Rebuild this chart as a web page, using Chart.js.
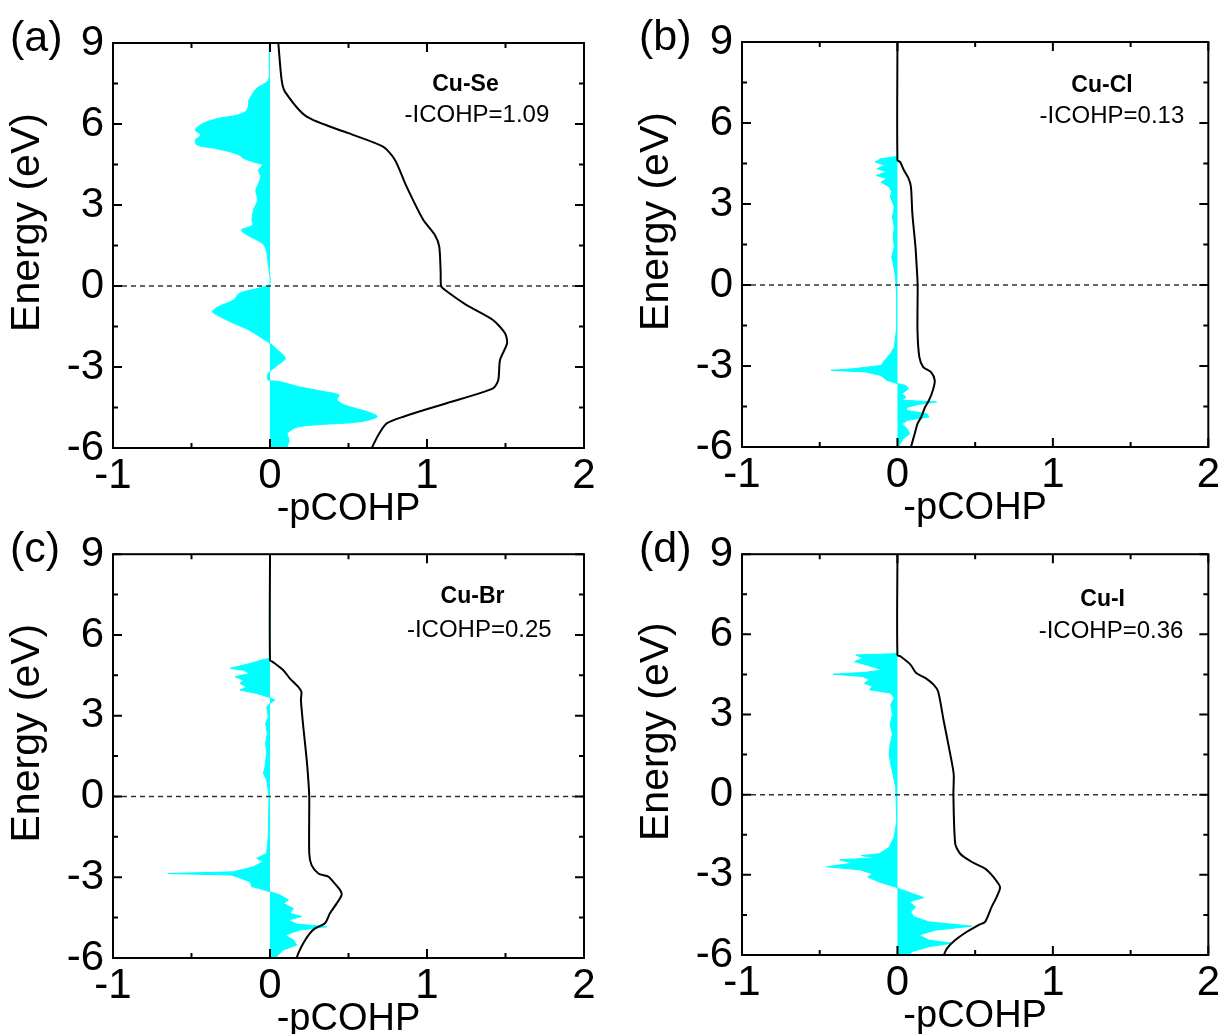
<!DOCTYPE html>
<html lang="en">
<head>
<meta charset="UTF-8">
<title>-pCOHP of Cu-X bonds</title>
<script src="https://cdn.jsdelivr.net/npm/chart.js"></script>
<style>
  body { margin: 0; background: #fff; }
  #figure { position: relative; width: 1223px; height: 1034px; overflow: hidden; }
  #figure canvas { position: absolute; }
</style>
</head>
<body>
<div id="figure">
  <canvas id="panelA" width="612" height="540" style="left:0;top:0"></canvas>
  <canvas id="panelB" width="611" height="540" style="left:612px;top:0"></canvas>
  <canvas id="panelC" width="612" height="514" style="left:0;top:520px"></canvas>
  <canvas id="panelD" width="611" height="514" style="left:612px;top:520px"></canvas>
</div>
<script>
// axis ticks
const xMajor = [-1, 0, 1, 2];
const xMinor = [-0.5, 0.5, 1.5];
const yMajor = [-6, -3, 0, 3, 6, 9];
const yMinor = [-4.5, -1.5, 1.5, 4.5, 7.5];

// Cu-Se: -pCOHP (energy in eV, bottom to top) and integrated curve
const cuSeEnergy = [-6, -5.95, -5.71, -5.46, -5.21, -5.03, -4.84, -4.66, -4.41, -4.22, -4.04, -3.92, -3.73, -3.54, -3.48, -3.24, -2.93, -2.68, -2.37, -2.12, -1.94, -1.63, -1.38, -1.14, -0.95, -0.77, -0.52, -0.27, -0.03, 0.1, 0.84, 1.33, 1.58, 1.89, 2.07, 2.26, 2.44, 2.81, 3.18, 3.55, 3.8, 4.05, 4.3, 4.48, 4.6, 4.73, 4.85, 4.97, 5.1, 5.22, 5.41, 5.59, 5.78, 6.02, 6.21, 6.33, 6.52, 6.89, 7.13, 7.32, 7.63, 8.2, 9];
const cuSePcohp = [0.11, 0.11, 0.122, 0.11, 0.183, 0.573, 0.683, 0.622, 0.476, 0.427, 0.44, 0.354, 0.183, 0.061, -0.012, -0.012, 0.049, 0.098, 0.049, 0, -0.049, -0.134, -0.232, -0.317, -0.366, -0.33, -0.232, -0.195, -0.037, 0, -0.012, -0.024, -0.049, -0.146, -0.183, -0.11, -0.115, -0.105, -0.08, -0.09, -0.073, -0.06, -0.073, -0.049, -0.11, -0.17, -0.195, -0.256, -0.354, -0.464, -0.476, -0.44, -0.476, -0.427, -0.33, -0.207, -0.146, -0.134, -0.11, -0.085, -0.01, -0.005, -0.005];
const cuSeIcohpEnergy = [-6, -5.52, -5.09, -4.84, -4.34, -3.79, -3.48, -2.74, -2.12, -1.75, -1.26, -0.7, -0.15, 0, 0.5, 1.46, 1.89, 2.44, 3.68, 4.67, 5.16, 5.66, 6.27, 7.2, 7.63, 9];
const cuSeIcohp = [0.648, 0.69, 0.743, 0.85, 1.125, 1.42, 1.454, 1.465, 1.51, 1.497, 1.42, 1.25, 1.115, 1.09, 1.087, 1.078, 1.05, 0.977, 0.87, 0.796, 0.72, 0.5, 0.234, 0.095, 0.074, 0.053];

// Cu-Cl
const cuClEnergy = [-6, -5.88, -5.69, -5.51, -5.32, -5.14, -5.01, -4.89, -4.77, -4.64, -4.52, -4.42, -4.33, -4.27, -4.15, -4.02, -3.84, -3.72, -3.65, -3.53, -3.35, -3.22, -3.16, -3.1, -2.98, -2.79, -2.54, -2.3, -1.68, -0.44, 0.3, 0.79, 1.04, 1.41, 1.78, 2.15, 2.52, 2.89, 3.26, 3.44, 3.63, 3.81, 3.94, 4.06, 4.19, 4.31, 4.43, 4.56, 4.68, 4.74, 4.8, 9];
const cuClPcohp = [0.005, 0.017, 0.037, 0.079, 0.062, 0.03, 0.067, 0.203, 0.19, 0.054, 0.067, 0.141, 0.252, 0.03, 0.054, 0.03, 0.072, 0.054, 0, -0.069, -0.106, -0.205, -0.428, -0.28, -0.106, -0.082, -0.045, -0.02, -0.007, -0.005, -0.012, -0.027, -0.037, -0.02, -0.027, -0.02, -0.032, -0.02, -0.045, -0.037, -0.052, -0.106, -0.069, -0.136, -0.069, -0.131, -0.082, -0.143, -0.106, -0.02, 0, 0];
const cuClIcohpEnergy = [-6, -5.51, -5.14, -4.89, -4.52, -4.27, -3.9, -3.53, -3.22, -3.04, -2.67, -1.68, 0, 0.67, 1.41, 2.64, 3.63, 3.94, 4.25, 4.56, 4.62, 9];
const cuClIcohp = [0.087, 0.111, 0.129, 0.153, 0.178, 0.203, 0.228, 0.24, 0.215, 0.166, 0.141, 0.129, 0.13, 0.124, 0.116, 0.096, 0.087, 0.072, 0.042, 0.017, 0, 0];

// Cu-Br
const cuBrEnergy = [-6, -5.89, -5.7, -5.52, -5.33, -5.15, -4.96, -4.84, -4.74, -4.59, -4.46, -4.34, -4.16, -3.97, -3.85, -3.66, -3.54, -3.41, -3.35, -3.17, -2.98, -2.92, -2.86, -2.8, -2.61, -2.42, -2.3, -2.11, -1.49, -0.01, 0.61, 0.86, 1.1, 1.6, 1.97, 2.34, 2.71, 2.96, 3.33, 3.46, 3.58, 3.7, 3.83, 3.95, 4.07, 4.2, 4.32, 4.45, 4.57, 4.69, 4.76, 4.94, 5.09, 5.13, 9];
const cuBrPcohp = [0.032, 0.053, 0.085, 0.17, 0.149, 0.096, 0.191, 0.361, 0.17, 0.117, 0.202, 0.127, 0.149, 0.085, 0.117, 0.064, 0, -0.074, -0.117, -0.127, -0.212, -0.25, -0.65, -0.234, -0.106, -0.042, -0.085, -0.021, -0.011, -0.006, -0.021, -0.042, -0.032, -0.021, -0.028, -0.017, -0.028, -0.011, -0.021, 0, 0.032, -0.011, -0.085, -0.191, -0.149, -0.191, -0.17, -0.223, -0.127, -0.17, -0.255, -0.127, -0.042, 0, 0];
const cuBrIcohpEnergy = [-6, -5.83, -5.45, -5.08, -4.9, -4.71, -4.34, -3.97, -3.66, -3.47, -3.17, -2.98, -2.86, -2.55, -2.11, 0, 0.61, 1.35, 2.59, 3.58, 3.89, 4.07, 4.38, 4.69, 5.0, 5.06, 9];
const cuBrIcohp = [0.17, 0.18, 0.212, 0.255, 0.287, 0.35, 0.382, 0.425, 0.456, 0.446, 0.403, 0.372, 0.308, 0.265, 0.25, 0.25, 0.244, 0.234, 0.212, 0.197, 0.2, 0.18, 0.127, 0.085, 0.017, 0, 0];

// Cu-I
const cuIEnergy = [-6, -5.87, -5.69, -5.56, -5.44, -5.25, -5.07, -4.92, -4.76, -4.57, -4.39, -4.2, -4.01, -3.85, -3.7, -3.52, -3.46, -3.27, -3.08, -2.96, -2.81, -2.7, -2.56, -2.44, -2.36, -2.28, -2.21, -1.97, -1.59, -0.97, 0.27, 0.76, 1.14, 1.51, 1.88, 2.25, 2.62, 3.0, 3.37, 3.62, 3.8, 3.93, 4.05, 4.17, 4.3, 4.42, 4.51, 4.58, 4.67, 4.86, 4.98, 5.11, 5.23, 5.27, 5.3, 9];
const cuIPcohp = [0.074, 0.096, 0.202, 0.351, 0.202, 0.138, 0.245, 0.479, 0.202, 0.106, 0.085, 0.117, 0.074, 0.17, 0.096, 0.011, -0.011, -0.117, -0.191, -0.16, -0.245, -0.456, -0.287, -0.372, -0.138, -0.234, -0.117, -0.053, -0.021, -0.004, -0.011, -0.028, -0.043, -0.053, -0.047, -0.032, -0.047, -0.032, -0.043, -0.021, -0.043, -0.181, -0.16, -0.213, -0.181, -0.223, -0.415, -0.202, -0.096, -0.202, -0.277, -0.223, -0.266, -0.032, 0, 0];
const cuIIcohpEnergy = [-6, -5.75, -5.44, -5.13, -4.88, -4.76, -4.2, -3.83, -3.46, -3.08, -2.77, -2.52, -2.21, -1.84, 0, 0.76, 1.51, 2.75, 3.86, 4.11, 4.36, 4.55, 4.86, 5.17, 5.23, 9];
const cuIIcohp = [0.298, 0.319, 0.372, 0.447, 0.521, 0.564, 0.606, 0.638, 0.66, 0.617, 0.564, 0.479, 0.404, 0.372, 0.36, 0.362, 0.34, 0.298, 0.262, 0.234, 0.181, 0.121, 0.085, 0.021, 0, 0];

const bondNames = ['Cu-Se', 'Cu-Cl', 'Cu-Br', 'Cu-I'];
const icohpValues = [1.09, 0.13, 0.25, 0.36];
const panelLetters = ['(a)', '(b)', '(c)', '(d)'];

const FONT = '"Liberation Sans", Arial, Helvetica, sans-serif';
Chart.defaults.font.family = FONT;
Chart.defaults.color = '#000';

const toPoints = (energy, values) => energy.map((e, i) => ({x: values[i], y: e}));

// frame, inward ticks on all sides, y title, bond label and panel letter
const frameTicks = {
  id: 'frameTicks',
  afterDatasetsDraw(chart, args, opts) {
    const {ctx, chartArea: a, scales: {x, y}} = chart;
    ctx.save();
    ctx.strokeStyle = '#000';
    ctx.lineWidth = 2;
    ctx.strokeRect(a.left, a.top, a.right - a.left, a.bottom - a.top);
    ctx.beginPath();
    const xt = (vals, len) => vals.forEach(v => {
      const px = x.getPixelForValue(v);
      ctx.moveTo(px, a.bottom); ctx.lineTo(px, a.bottom - len);
      ctx.moveTo(px, a.top); ctx.lineTo(px, a.top + len);
    });
    const yt = (vals, len) => vals.forEach(v => {
      const py = y.getPixelForValue(v);
      ctx.moveTo(a.left, py); ctx.lineTo(a.left + len, py);
      ctx.moveTo(a.right, py); ctx.lineTo(a.right - len, py);
    });
    xt(xMajor, 9); xt(xMinor, 5);
    yt(yMajor, 9); yt(yMinor, 5);
    ctx.stroke();

    ctx.fillStyle = '#000';
    ctx.textAlign = 'center';
    ctx.textBaseline = 'middle';
    ctx.font = 'bold 23px ' + FONT;
    ctx.fillText(opts.bond, x.getPixelForValue(opts.bondAt[0]), y.getPixelForValue(opts.bondAt[1]));
    ctx.font = '24px ' + FONT;
    ctx.fillText('-ICOHP=' + opts.icohp.toFixed(2), x.getPixelForValue(opts.valueAt[0]), y.getPixelForValue(opts.valueAt[1]));

    // vertical axis title, sits a little above the middle of the frame
    ctx.save();
    ctx.translate(a.left - 85.5, (a.top + a.bottom) / 2 - 23);
    ctx.rotate(-Math.PI / 2);
    ctx.font = '41px ' + FONT;
    ctx.fillText('Energy (eV)', 0, 0);
    ctx.restore();

    ctx.textAlign = 'left';
    ctx.textBaseline = 'alphabetic';
    ctx.font = '43px ' + FONT;
    ctx.fillText(opts.letter, a.left - 103, a.top + 8);
    ctx.restore();
  }
};

const panels = [
  {id: 'panelA', e: cuSeEnergy, p: cuSePcohp, ie: cuSeIcohpEnergy, iv: cuSeIcohp, tension: 0.3,
   area: {left: 113, top: 43, right: 584, bottom: 448}, bondAt: [1.245, 7.45], valueAt: [1.318, 6.33]},
  {id: 'panelB', e: cuClEnergy, p: cuClPcohp, ie: cuClIcohpEnergy, iv: cuClIcohp, tension: 0,
   area: {left: 742, top: 42, right: 1212, bottom: 447}, bondAt: [1.316, 7.4], valueAt: [1.38, 6.24]},
  {id: 'panelC', e: cuBrEnergy, p: cuBrPcohp, ie: cuBrIcohpEnergy, iv: cuBrIcohp, tension: 0,
   area: {left: 113, top: 554, right: 584, bottom: 958}, bondAt: [1.29, 7.44], valueAt: [1.333, 6.17]},
  {id: 'panelD', e: cuIEnergy, p: cuIPcohp, ie: cuIIcohpEnergy, iv: cuIIcohp, tension: 0,
   area: {left: 742, top: 552, right: 1212, bottom: 955}, bondAt: [1.32, 7.3], valueAt: [1.374, 6.1]}
];

panels.forEach((cfg, k) => {
  const canvas = document.getElementById(cfg.id);
  const ox = canvas.offsetLeft, oy = canvas.offsetTop;
  const W = canvas.width, H = canvas.height;
  const left = cfg.area.left - ox, top = cfg.area.top - oy;
  const right = cfg.area.right - ox, bottom = cfg.area.bottom - oy;
  const titleSize = 38, half = titleSize * 1.2 / 2;

  new Chart(canvas, {
    type: 'line',
    data: {
      datasets: [
        {
          data: toPoints(cfg.ie, cfg.iv),
          borderColor: '#000', borderWidth: 2, tension: 0.25,
          pointRadius: 0, fill: false
        },
        {
          data: [{x: -1, y: 0}, {x: 2, y: 0}],
          borderColor: '#333', borderWidth: 1.5, borderDash: [5, 4],
          pointRadius: 0, fill: false
        },
        {
          data: toPoints(cfg.e, cfg.p),
          borderColor: '#00ffff', backgroundColor: '#00ffff', borderWidth: 1,
          tension: cfg.tension, pointRadius: 0, fill: {value: 0}
        }
      ]
    },
    options: {
      indexAxis: 'y',
      responsive: false,
      animation: false,
      events: [],
      layout: {padding: {left: 0, top: top, right: W - right, bottom: 0}},
      plugins: {
        legend: {display: false},
        tooltip: {enabled: false},
        frameTicks: {
          bond: bondNames[k], icohp: icohpValues[k], letter: panelLetters[k],
          bondAt: cfg.bondAt, valueAt: cfg.valueAt
        }
      },
      scales: {
        x: {
          type: 'linear', min: -1, max: 2,
          grid: {display: false, drawTicks: false},
          border: {display: false},
          ticks: {stepSize: 1, padding: 3, maxRotation: 0, autoSkip: false, font: {size: 42}},
          title: {
            display: true, text: '-pCOHP', font: {size: titleSize},
            padding: {top: 0, bottom: H - half - (bottom + 62)}
          },
          afterFit: s => { s.height = H - bottom; }
        },
        y: {
          type: 'linear', min: -6, max: 9,
          grid: {display: false, drawTicks: false},
          border: {display: false},
          ticks: {stepSize: 3, padding: 9, autoSkip: false, font: {size: 42}},
          title: {display: false},
          afterFit: s => { s.width = left; }
        }
      }
    },
    plugins: [frameTicks]
  });
});
</script>
</body>
</html>
